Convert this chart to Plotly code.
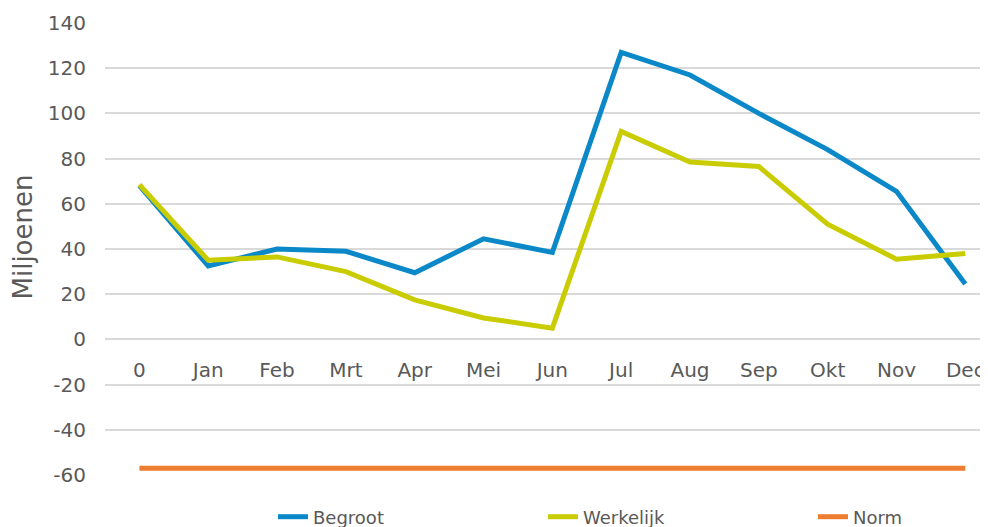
import plotly.graph_objects as go

categories = ["0", "Jan", "Feb", "Mrt", "Apr", "Mei", "Jun", "Jul", "Aug", "Sep", "Okt", "Nov", "Dec"]
begroot = [68, 32.5, 40, 39, 29.5, 44.5, 38.5, 127, 117, 100, 84, 65.5, 24.5]
werkelijk = [68.5, 35, 36.5, 30, 17.5, 9.5, 5, 92, 78.5, 76.5, 51, 35.5, 38]
norm = [-57] * 13
y_ticks = [-60, -40, -20, 0, 20, 40, 60, 80, 100, 120, 140]
y_tick_labels = ["-60", "-40", "-20", "0", "20", "40", "60", "80", "100", "120", "140"]

fig = go.Figure()
fig.add_trace(go.Scatter(x=categories, y=begroot, mode="lines", name="Begroot",
                         line=dict(color="#0a88c8", width=5)))
fig.add_trace(go.Scatter(x=categories, y=werkelijk, mode="lines", name="Werkelijk",
                         line=dict(color="#c9cc00", width=5)))
fig.add_trace(go.Scatter(x=categories, y=norm, mode="lines", name="Norm",
                         line=dict(color="#ed7d31", width=5)))

# page has an 8px body margin, so the figure is 980x519 drawn from (8, 8)
W, H = 980, 519
ML, MT, MB = 97, 15, 52
PW, PH = W - ML, H - MT - MB

fig.add_annotation(text="Miljoenen", textangle=-90, showarrow=False,
                   xref="paper", yref="paper",
                   x=(14 - ML) / PW, y=(MT + PH - 229.5) / PH,
                   xanchor="center", yanchor="middle",
                   font=dict(size=26, color="#595959"))

fig.update_layout(
    width=W, height=H,
    margin=dict(l=ML, r=0, t=MT, b=MB, autoexpand=False),
    paper_bgcolor="white", plot_bgcolor="white",
    font=dict(family="DejaVu Sans", color="#595959", size=20),
    showlegend=True,
    legend=dict(orientation="h", xref="container", yref="container",
                x=265 / W, xanchor="left", y=10 / H, yanchor="middle",
                font=dict(size=18, color="#595959"), entrywidth=225, itemwidth=30,
                bgcolor="rgba(0,0,0,0)"),
    xaxis=dict(type="category", range=[-0.5, 12.33], showgrid=False, zeroline=False,
               showline=False, anchor="free", position=0.3, ticks="", automargin=False,
               ticklabelstandoff=17, tickfont=dict(size=20, color="#595959")),
    yaxis=dict(range=[-60, 140], tickvals=y_ticks, ticktext=y_tick_labels,
               showgrid=True, gridcolor="#d9d9d9",
               gridwidth=1.5, zeroline=False, showline=False, ticks="", automargin=False,
               ticklabelstandoff=18, tickfont=dict(size=20, color="#595959")),
)

fig.write_html("out.html")
